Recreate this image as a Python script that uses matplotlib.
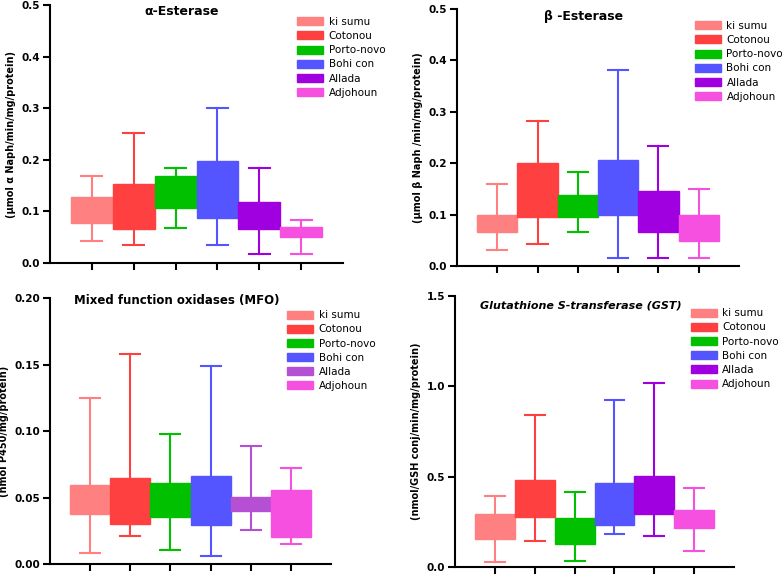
import numpy as np
import matplotlib
matplotlib.use('Agg')
import matplotlib.pyplot as plt
from matplotlib.patches import Patch

sites = ['ki sumu', 'Cotonou', 'Porto-novo', 'Bohi con', 'Allada', 'Adjohoun']
colors = ['#ff8080', '#ff4040', '#00c000', '#5555ff', '#a000e0', '#f550e0']
colors_mfo = ['#ff8080', '#ff4040', '#00c000', '#5555ff', '#b550d5', '#f550e0']

# alpha esterase: q1, q3, whisker low, whisker high
a_q1 = [0.077, 0.066, 0.106, 0.087, 0.066, 0.050]
a_q3 = [0.127, 0.153, 0.168, 0.197, 0.119, 0.069]
a_lo = [0.043, 0.034, 0.068, 0.034, 0.017, 0.017]
a_hi = [0.168, 0.251, 0.184, 0.301, 0.184, 0.084]

# beta esterase
b_q1 = [0.066, 0.095, 0.095, 0.099, 0.066, 0.049]
b_q3 = [0.100, 0.200, 0.138, 0.206, 0.145, 0.100]
b_lo = [0.032, 0.042, 0.067, 0.016, 0.016, 0.016]
b_hi = [0.159, 0.282, 0.182, 0.381, 0.233, 0.149]

# MFO
m_q1 = [0.0376, 0.030, 0.0353, 0.0296, 0.0401, 0.020]
m_q3 = [0.0594, 0.0644, 0.0607, 0.0664, 0.0504, 0.0554]
m_lo = [0.008, 0.021, 0.0105, 0.0058, 0.0258, 0.0148]
m_hi = [0.125, 0.158, 0.098, 0.1486, 0.089, 0.072]

# GST
g_q1 = [0.155, 0.275, 0.129, 0.235, 0.296, 0.214]
g_q3 = [0.292, 0.480, 0.273, 0.467, 0.502, 0.318]
g_lo = [0.026, 0.144, 0.033, 0.183, 0.172, 0.089]
g_hi = [0.392, 0.839, 0.417, 0.922, 1.020, 0.440]

fig = plt.figure(figsize=(7.84, 5.74), dpi=100)

panels = [
    ([0.0638, 0.5418, 0.3737, 0.4495], a_q1, a_q3, a_lo, a_hi, colors, (0, 0.5), 0.1, '%.1f',
     u'\u03b1-Esterase', 'normal', 9, 0.93, u'(\u00b5mol \u03b1 Naph/min/mg/protein)'),
    ([0.5829, 0.5366, 0.3597, 0.4477], b_q1, b_q3, b_lo, b_hi, colors, (0, 0.5), 0.1, '%.1f',
     u'\u03b2 -Esterase', 'normal', 9, 0.925, u'(\u00b5mol \u03b2 Naph /min/mg/protein)'),
    ([0.0638, 0.0174, 0.3584, 0.4634], m_q1, m_q3, m_lo, m_hi, colors_mfo, (0, 0.2), 0.05, '%.2f',
     'Mixed function oxidases (MFO)', 'normal', 8.5, 0.945, '(nmol P450/mg/protein)'),
    ([0.5804, 0.0122, 0.3559, 0.4721], g_q1, g_q3, g_lo, g_hi, colors, (0, 1.5), 0.5, '%.1f',
     'Glutathione S-transferase (GST)', 'italic', 8, 0.925, '(nmol/GSH conj/min/mg/protein)'),
]

for rect, q1, q3, lo, hi, cols, ylim, step, fmt, title, tstyle, tsize, ty, ylab in panels:
    ax = fig.add_axes(rect)
    stats = []
    for i in range(len(sites)):
        stats.append(dict(q1=q1[i], q3=q3[i], whislo=lo[i], whishi=hi[i],
                          med=(q1[i] + q3[i]) / 2, label=sites[i]))
    bp = ax.bxp(stats, positions=np.arange(1, 7), widths=1.0, patch_artist=True,
                showfliers=False, medianprops=dict(visible=False))
    for i, c in enumerate(cols):
        bp['boxes'][i].set_facecolor(c)
        bp['boxes'][i].set_edgecolor(c)
        bp['boxes'][i].set_linewidth(1.0)
        for ln in bp['whiskers'][2 * i:2 * i + 2] + bp['caps'][2 * i:2 * i + 2]:
            ln.set_color(c)
            ln.set_linewidth(1.5)
    ax.set_xlim(0, 7)
    ax.set_ylim(*ylim)
    ax.set_yticks(np.arange(ylim[0], ylim[1] + step / 2, step))
    ax.yaxis.set_major_formatter(plt.FormatStrFormatter(fmt))
    ax.set_xticks(np.arange(1, 7))
    ax.set_xticklabels([''] * 6)
    ax.spines['top'].set_visible(False)
    ax.spines['right'].set_visible(False)
    ax.spines['left'].set_linewidth(1.5)
    ax.spines['bottom'].set_linewidth(1.5)
    ax.tick_params(axis='both', width=1.5, length=5, labelsize=7.5, pad=2)
    for t in ax.get_yticklabels():
        t.set_fontweight('bold')
    ax.set_ylabel(ylab, fontsize=7, fontweight='bold', labelpad=4)
    ax.set_title(title, fontsize=tsize, fontweight='bold', style=tstyle, x=0.45, y=ty)
    handles = [Patch(facecolor=c, edgecolor=c) for c in cols]
    ax.legend(handles, sites, loc='upper left', bbox_to_anchor=(0.83, 0.97),
              frameon=False, fontsize=7.5, handlelength=2.5, handleheight=0.8,
              labelspacing=0.4, handletextpad=0.5, borderaxespad=0)

fig.savefig('out.png', dpi=100)
